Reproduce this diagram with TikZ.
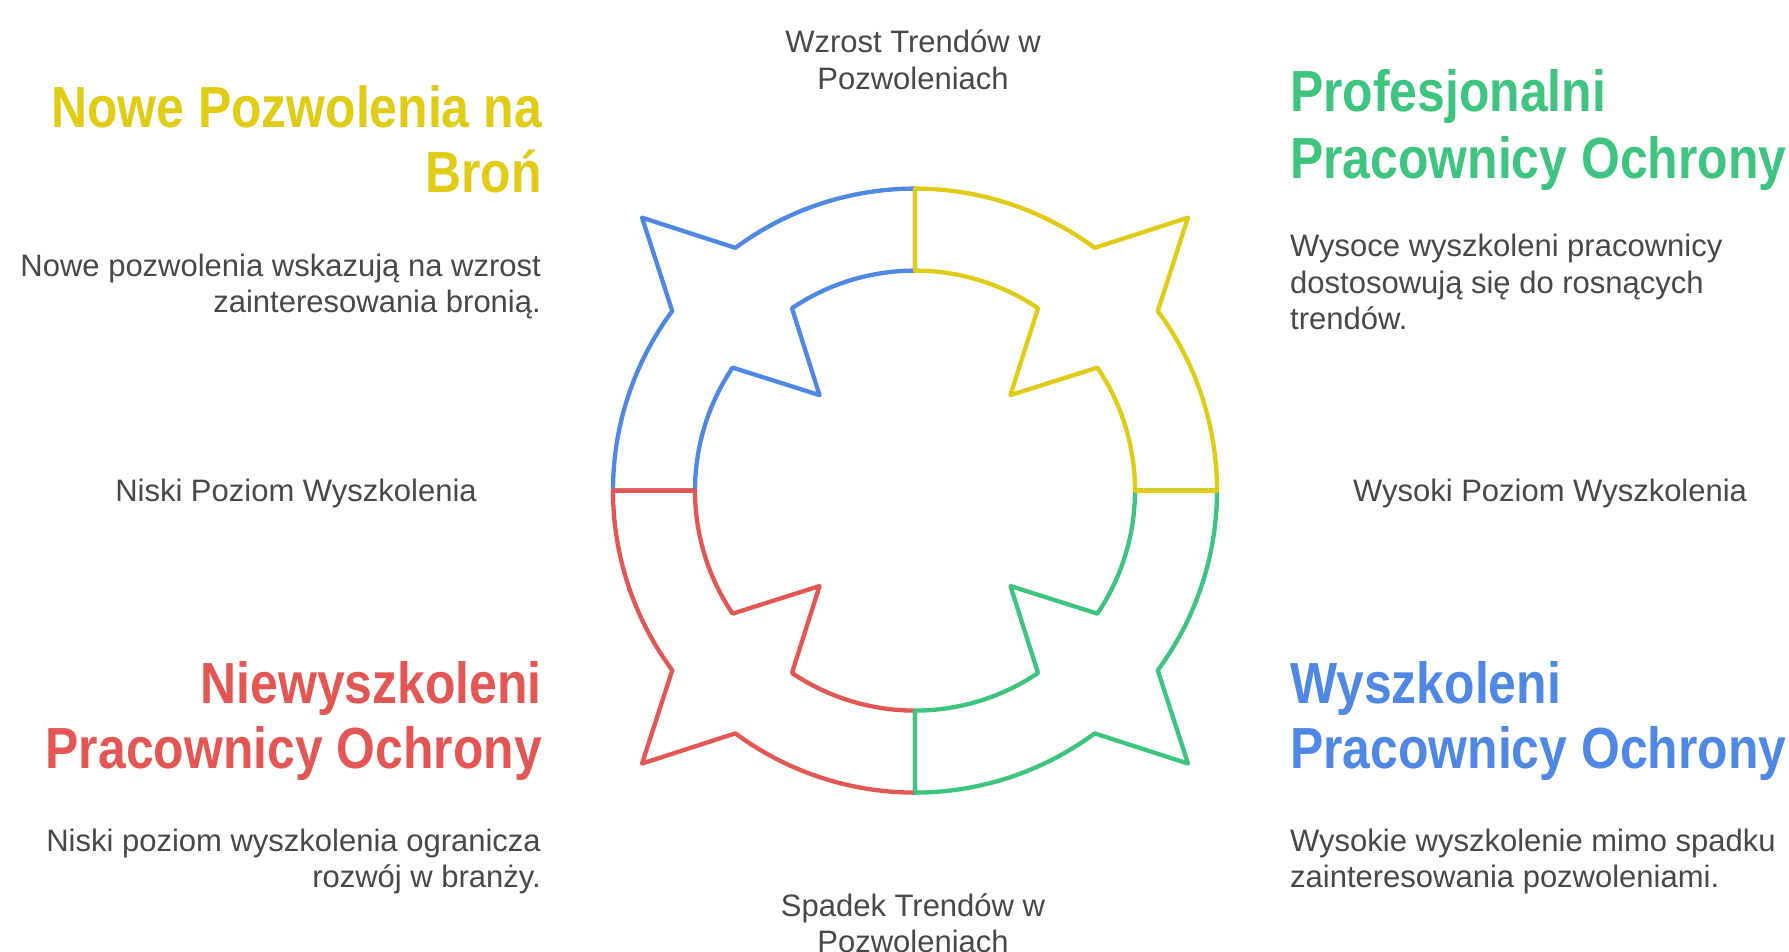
\documentclass[tikz,border=0pt]{standalone}
\usepackage{fontspec}
\setmainfont{Liberation Sans}
\newfontfamily\headfont{Liberation Sans Bold}[FakeStretch=0.86]
\definecolor{cblue}{HTML}{4F88E4}
\definecolor{cyellow}{HTML}{E0CB15}
\definecolor{cgreen}{HTML}{3DC47F}
\definecolor{cred}{HTML}{E35653}
\definecolor{ctext}{HTML}{484848}
\newcommand{\qshape}[2]{%
  \pgfmathsetmacro{\qa}{#1}%
  \pgfmathsetmacro{\qm}{#1+45}%
  \pgfmathsetmacro{\qb}{#1+90}%
  \pgfmathsetmacro{\qsa}{\qm-8.5}%
  \pgfmathsetmacro{\qsb}{\qm+8.5}%
  \pgfmathsetmacro{\qna}{\qm-11}%
  \pgfmathsetmacro{\qnb}{\qm+11}%
  \draw[ring, draw=#2] (\qa:302pt) arc[start angle=\qa, end angle=\qsa, radius=302pt]
    -- (\qm:386pt) -- (\qsb:302pt)
    arc[start angle=\qsb, end angle=\qb, radius=302pt]
    -- (\qb:220pt) arc[start angle=\qb, end angle=\qnb, radius=220pt]
    -- (\qm:135pt) -- (\qna:220pt)
    arc[start angle=\qna, end angle=\qa, radius=220pt] -- cycle;
}
\begin{document}
\begin{tikzpicture}[x=1pt,y=1pt,
  ring/.style={line width=4.3pt, line join=round, line cap=round},
  body/.style={font=\fontsize{31}{36.5}\selectfont, text=ctext, inner sep=0pt},
  head/.style={font=\headfont\fontsize{58}{66}\selectfont, inner sep=0pt}]
\useasboundingbox (0,0) rectangle (1789,-951);
\fill[white] (0,0) rectangle (1789,-951);

\begin{scope}[shift={(915,-490.6)}]
  \qshape{90}{cblue}
  \qshape{180}{cred}
  \qshape{270}{cgreen}
  \qshape{0}{cyellow}
\end{scope}

% top / bottom / side labels
\node[body, anchor=base] (up1) at (913,-52.5) {Wzrost Trendów w};
\node[body, anchor=base] (up2) at (913,-89) {Pozwoleniach};
\node[body, anchor=base] (dn1) at (913,-916) {Spadek Trendów w};
\node[body, anchor=base] (dn2) at (913,-952.5) {Pozwoleniach};
\node[body, anchor=base] (lowlab) at (296,-501.5) {Niski Poziom Wyszkolenia};
\node[body, anchor=base] (highlab) at (1550,-501.5) {Wysoki Poziom Wyszkolenia};

% top-left
\node[head, text=cyellow, anchor=base east] (tlh1) at (542,-127.8) {Nowe Pozwolenia na};
\node[head, text=cyellow, anchor=base east] (tlh2) at (542,-192) {Broń};
\node[body, anchor=base east] (tlb1) at (541,-276) {Nowe pozwolenia wskazują na wzrost};
\node[body, anchor=base east] (tlb2) at (541,-312.5) {zainteresowania bronią.};

% top-right
\node[head, text=cgreen, anchor=base west] (trh1) at (1290,-111.8) {Profesjonalni};
\node[head, text=cgreen, anchor=base west] (trh2) at (1290,-178) {Pracownicy Ochrony};
\node[body, anchor=base west] (trb1) at (1290,-256.7) {Wysoce wyszkoleni pracownicy};
\node[body, anchor=base west] (trb2) at (1290,-293.2) {dostosowują się do rosnących};
\node[body, anchor=base west] (trb3) at (1290,-329.7) {trendów.};

% bottom-left
\node[head, text=cred, anchor=base east] (blh1) at (542,-703) {Niewyszkoleni};
\node[head, text=cred, anchor=base east] (blh2) at (542,-768) {Pracownicy Ochrony};
\node[body, anchor=base east] (blb1) at (541,-851) {Niski poziom wyszkolenia ogranicza};
\node[body, anchor=base east] (blb2) at (541,-887.5) {rozwój w branży.};

% bottom-right
\node[head, text=cblue, anchor=base west] (brh1) at (1290,-703) {Wyszkoleni};
\node[head, text=cblue, anchor=base west] (brh2) at (1290,-768) {Pracownicy Ochrony};
\node[body, anchor=base west] (brb1) at (1290,-851) {Wysokie wyszkolenie mimo spadku};
\node[body, anchor=base west] (brb2) at (1290,-887.5) {zainteresowania pozwoleniami.};
\end{tikzpicture}
\end{document}
